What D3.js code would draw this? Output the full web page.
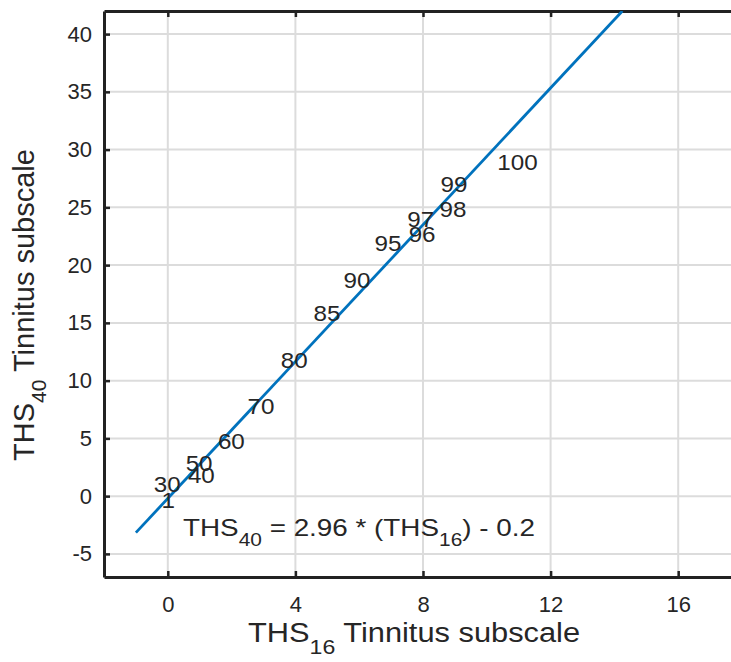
<!DOCTYPE html>
<meta charset="utf-8">
<style>
  body { margin: 0; background: #fff; }
  svg { display: block; font-family: "Liberation Sans", Arial, sans-serif; }
  .grid line { stroke: #dcdcdc; stroke-width: 2; }
  .lbl { fill: #262626; font-size: 22px; }
</style>
<body>
<svg width="731" height="662"></svg>
<script src="https://d3js.org/d3.v7.min.js"></script>
<script>
  // percentile labels placed at (THS16, THS40)
  var pctLabels = ["1", "30", "40", "50", "60", "70", "80", "85", "90", "95", "96", "97", "98", "99", "100"];
  var pctX = [-0.2, -0.44, 0.63, 0.56, 1.57, 2.5, 3.54, 4.57, 5.51, 6.48, 7.55, 7.51, 8.52, 8.55, 10.33];
  var pctY = [-0.4, 1.0, 1.8, 2.85, 4.75, 7.8, 11.8, 15.8, 18.7, 21.9, 22.7, 24.0, 24.8, 27.0, 28.9];

  // fitted line end points
  var fitX = [-1, 14.25];
  var fitY = [-3.16, 42];

  var xTicks = [0, 4, 8, 12, 16];
  var yTicks = [-5, 0, 5, 10, 15, 20, 25, 30, 35, 40];

  var svg = d3.select("svg");
  var pLeft = 104, pRight = 742, pTop = 11, pBottom = 577;
  var stretch = 1.1; // reference text is slightly wide

  var x = d3.scaleLinear().domain([-2, 18]).range([pLeft, pRight]);
  var y = d3.scaleLinear().domain([-7, 42]).range([pBottom, pTop]);

  svg.append("defs").append("clipPath").attr("id", "clip")
    .append("rect").attr("x", pLeft).attr("y", pTop)
    .attr("width", pRight - pLeft).attr("height", pBottom - pTop);

  // grid
  var grid = svg.append("g").attr("class", "grid");
  grid.selectAll(".gx").data(xTicks).enter().append("line")
    .attr("x1", d => x(d)).attr("x2", d => x(d))
    .attr("y1", pTop).attr("y2", pBottom);
  grid.selectAll(".gy").data(yTicks).enter().append("line")
    .attr("x1", pLeft).attr("x2", pRight)
    .attr("y1", d => y(d)).attr("y2", d => y(d));

  // axes
  var xAxis = svg.append("g")
    .attr("transform", "translate(0," + pBottom + ")")
    .call(d3.axisBottom(x).tickValues(xTicks).tickSizeInner(-6).tickSizeOuter(0).tickPadding(19)
      .tickFormat(d => String(d)));
  var xAxisTop = svg.append("g")
    .attr("transform", "translate(0," + pTop + ")")
    .call(d3.axisTop(x).tickValues(xTicks).tickSizeInner(-6).tickSizeOuter(0).tickFormat(""));
  var yAxis = svg.append("g")
    .attr("transform", "translate(" + pLeft + ",0)")
    .call(d3.axisLeft(y).tickValues(yTicks).tickSizeInner(-6).tickSizeOuter(0).tickPadding(12)
      .tickFormat(d => String(d)));

  [xAxis, xAxisTop, yAxis].forEach(function (a) {
    a.select(".domain").attr("stroke", "#222").attr("stroke-width", 3);
    a.selectAll(".tick line").attr("stroke", "#222").attr("stroke-width", 2.5);
    a.selectAll(".tick text").attr("fill", "#262626")
      .style("font-size", "22px").style("font-family", "Liberation Sans, Arial, sans-serif");
  });

  // fitted line
  svg.append("path")
    .datum(d3.zip(fitX, fitY))
    .attr("clip-path", "url(#clip)")
    .attr("fill", "none")
    .attr("stroke", "#0072BD")
    .attr("stroke-width", 2.8)
    .attr("d", d3.line().x(d => x(d[0])).y(d => y(d[1])));

  // percentile labels
  svg.append("g").selectAll("text")
    .data(pctLabels).enter().append("text")
    .attr("class", "lbl")
    .attr("transform", (d, i) => "translate(" + x(pctX[i]) + "," + y(pctY[i]) + ") scale(" + stretch + ",1)")
    .attr("dy", "0.35em")
    .text(d => d);

  // equation
  var eq = svg.append("text").attr("class", "lbl").style("font-size", "24px")
    .attr("transform", "translate(183,536) scale(1.16,1)");
  eq.append("tspan").text("THS");
  eq.append("tspan").attr("dy", 10).style("font-size", "18px").text("40");
  eq.append("tspan").attr("dy", -10).text(" = 2.96 * (THS");
  eq.append("tspan").attr("dy", 10).style("font-size", "18px").text("16");
  eq.append("tspan").attr("dy", -10).text(") - 0.2");

  // x label
  var xl = svg.append("text").attr("class", "lbl").style("font-size", "28px")
    .attr("transform", "translate(248,642) scale(1.1,1)");
  xl.append("tspan").text("THS");
  xl.append("tspan").attr("dy", 12).style("font-size", "21px").text("16");
  xl.append("tspan").attr("dy", -12).text(" Tinnitus subscale");

  // y label
  var yl = svg.append("text").attr("class", "lbl").style("font-size", "29px")
    .attr("text-anchor", "middle")
    .attr("transform", "translate(34,305) rotate(-90)");
  yl.append("tspan").text("THS");
  yl.append("tspan").attr("dy", 12).style("font-size", "21px").text("40");
  yl.append("tspan").attr("dy", -12).text(" Tinnitus subscale");
</script>
</body>
